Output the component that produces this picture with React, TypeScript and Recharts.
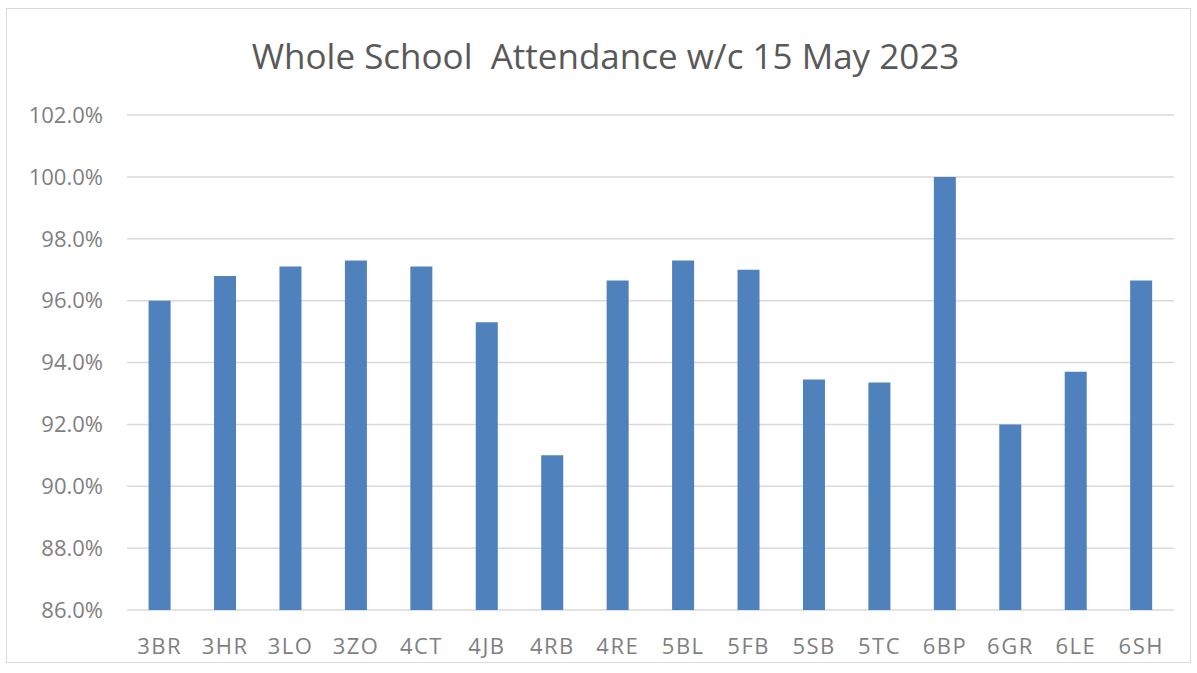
import React from "react";
import { BarChart, Bar, XAxis, YAxis, CartesianGrid } from "recharts";

const classes = ["3BR","3HR","3LO","3ZO","4CT","4JB","4RB","4RE","5BL","5FB","5SB","5TC","6BP","6GR","6LE","6SH"];
const attendance = [96.0,96.8,97.1,97.3,97.1,95.3,91.0,96.65,97.3,97.0,93.45,93.35,100.0,92.0,93.7,96.65];
const yTicks = [86,88,90,92,94,96,98,100,102];
const title = "Whole School  Attendance w/c 15 May 2023";

const data = classes.map((c, i) => ({ name: c, value: attendance[i] }));

const FONT = "'Open Sans', 'Noto Sans', sans-serif";

export default function App() {
  return (
    <div style={{ position: "absolute", left: 0, top: 0, width: 1197, height: 673, background: "#fff", fontFamily: FONT }}>
      <div style={{ position: "absolute", left: 6, top: 8, width: 1185, height: 655, border: "1px solid #d9d9d9", boxSizing: "border-box" }} />
      <div style={{ position: "absolute", left: 7, top: 32, width: 1197, textAlign: "center", fontSize: 35, color: "#595959", whiteSpace: "pre", fontFamily: FONT }}>
        {title}
      </div>
      <BarChart
        width={1197}
        height={673}
        data={data}
        margin={{ top: 115, right: 23, bottom: 0, left: 0 }}
        barCategoryGap="33%"
        style={{ position: "absolute", left: 0, top: 0 }}
      >
        <CartesianGrid vertical={false} stroke="#d9d9d9" strokeWidth={1.5} />
        <XAxis
          dataKey="name"
          height={63}
          axisLine={false}
          tickLine={false}
          tickSize={8}
          tickMargin={20}
          tick={{ fill: "#7f7f7f", fontSize: 22, fontFamily: FONT, letterSpacing: 1.5 }}
          interval={0}
        />
        <YAxis
          width={127}
          domain={[86, 102]}
          ticks={yTicks}
          axisLine={false}
          tickLine={false}
          tickSize={0}
          tickMargin={24}
          tickFormatter={(v: number) => v.toFixed(1) + "%"}
          tick={{ fill: "#7f7f7f", fontSize: 22, fontFamily: FONT }}
        />
        <Bar dataKey="value" fill="#4f81bd" isAnimationActive={false} />
      </BarChart>
    </div>
  );
}
